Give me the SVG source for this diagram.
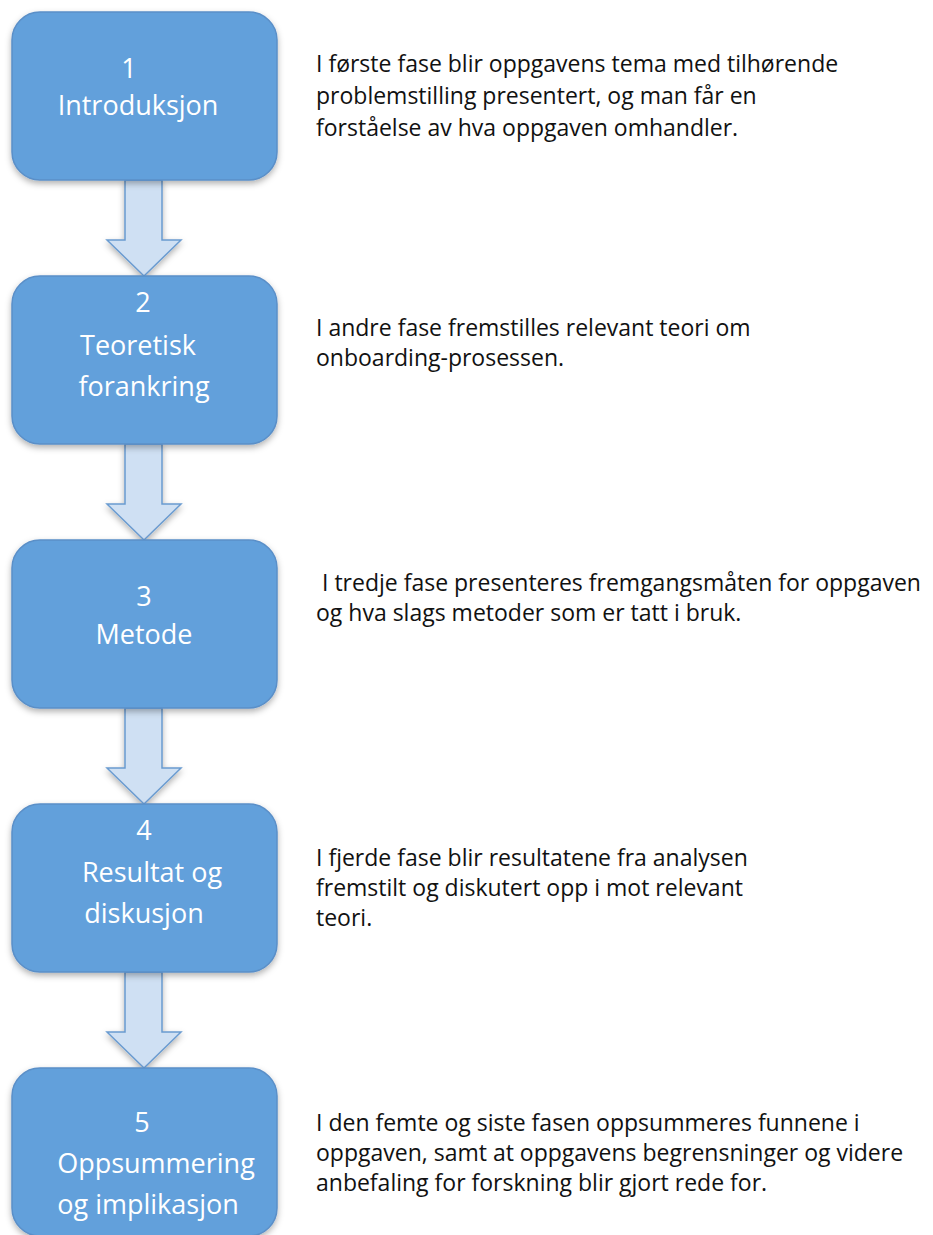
<svg xmlns="http://www.w3.org/2000/svg" width="933" height="1235" viewBox="0 0 933 1235">
<defs>
<filter id="sh" x="-10%" y="-10%" width="130%" height="130%">
<feDropShadow dx="0" dy="3" stdDeviation="3" flood-color="#000" flood-opacity="0.3"/>
</filter>
<path id="arr" d="M125,0 H162 V60 H181 L144,96 L107,60 H125 Z"/>
</defs>
<style>
.box{fill:#62A0DB;stroke:#5A8FC8;stroke-width:1.5;filter:url(#sh)}
.arrow{fill:#CFE0F3;stroke:#6A9BD0;stroke-width:1.5;filter:url(#sh)}
.lbl{font-family:"Open Sans","Liberation Sans",sans-serif;font-size:27px;fill:#fff;text-anchor:middle}
.desc{font-family:"Open Sans","Liberation Sans",sans-serif;font-size:23px;fill:#111}
</style>
<rect width="933" height="1235" fill="#fff"/>
<g id="connectors">
<use href="#arr" class="arrow" y="180"/>
<use href="#arr" class="arrow" y="444"/>
<use href="#arr" class="arrow" y="708"/>
<use href="#arr" class="arrow" y="972"/>
</g>
<g id="node1">
<rect class="box" x="12" y="12" width="265" height="168" rx="28"/>
<text class="lbl" x="129" y="78">1</text>
<text class="lbl" x="138" y="115">Introduksjon</text>
</g>
<g id="node2">
<rect class="box" x="12" y="276" width="265" height="168" rx="28"/>
<text class="lbl" x="143" y="312">2</text>
<text class="lbl" x="138" y="355">Teoretisk</text>
<text class="lbl" x="144" y="396">forankring</text>
</g>
<g id="node3">
<rect class="box" x="12" y="540" width="265" height="168" rx="28"/>
<text class="lbl" x="144" y="606">3</text>
<text class="lbl" x="144" y="644">Metode</text>
</g>
<g id="node4">
<rect class="box" x="12" y="804" width="265" height="168" rx="28"/>
<text class="lbl" x="144" y="840">4</text>
<text class="lbl" x="152" y="882">Resultat og</text>
<text class="lbl" x="144" y="923">diskusjon</text>
</g>
<g id="node5">
<rect class="box" x="12" y="1068" width="265" height="168" rx="28"/>
<text class="lbl" x="142" y="1132">5</text>
<text class="lbl" x="156" y="1173">Oppsummering</text>
<text class="lbl" x="148" y="1214">og implikasjon</text>
</g>
<g id="desc1" class="desc">
<text x="316" y="72">I første fase blir oppgavens tema med tilhørende</text>
<text x="316" y="104">problemstilling presentert, og man får en</text>
<text x="316" y="136">forståelse av hva oppgaven omhandler.</text>
</g>
<g id="desc2" class="desc">
<text x="316" y="336">I andre fase fremstilles relevant teori om</text>
<text x="316" y="366">onboarding-prosessen.</text>
</g>
<g id="desc3" class="desc">
<text x="322" y="591">I tredje fase presenteres fremgangsmåten for oppgaven</text>
<text x="316" y="621">og hva slags metoder som er tatt i bruk.</text>
</g>
<g id="desc4" class="desc">
<text x="316" y="866">I fjerde fase blir resultatene fra analysen</text>
<text x="316" y="896">fremstilt og diskutert opp i mot relevant</text>
<text x="316" y="926">teori.</text>
</g>
<g id="desc5" class="desc">
<text x="316" y="1131">I den femte og siste fasen oppsummeres funnene i</text>
<text x="316" y="1161">oppgaven, samt at oppgavens begrensninger og videre</text>
<text x="316" y="1191">anbefaling for forskning blir gjort rede for.</text>
</g>
</svg>
